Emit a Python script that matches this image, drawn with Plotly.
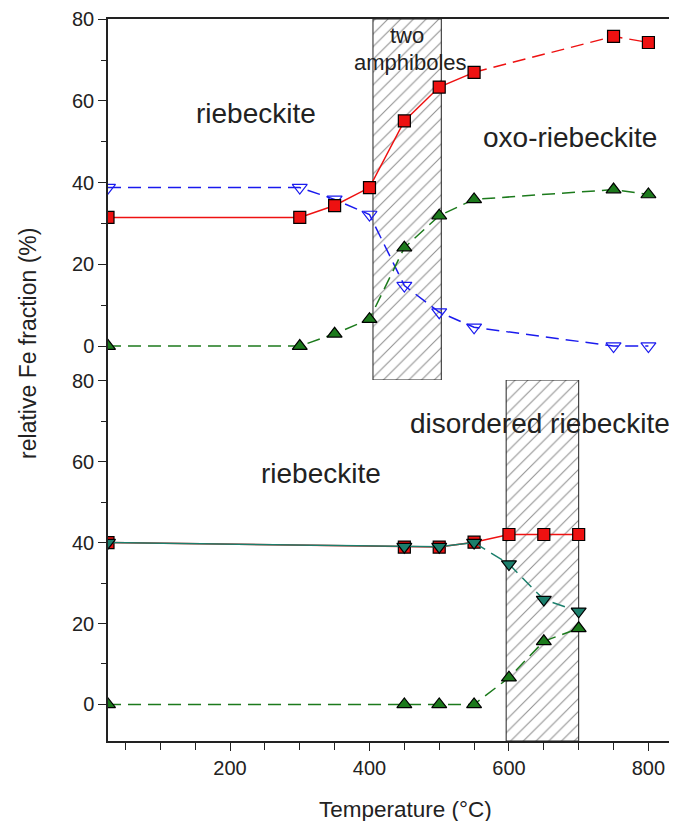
import plotly.graph_objects as go

# ---------------- data ----------------
# top panel (oxidation)
t_top = [25, 300, 350, 400, 450, 500, 550, 750, 800]
top_red = [31.5, 31.5, 34.4, 38.8, 55.1, 63.4, 67.0, 75.8, 74.3]
top_blue = [38.8, 38.8, 35.9, 32.2, 14.8, 8.3, 4.6, 0.0, 0.0]
top_green = [0.0, 0.0, 3.0, 6.6, 24.1, 31.9, 35.9, 38.3, 37.1]

# bottom panel (disordering)
t_bot = [25, 450, 500, 550, 600, 650, 700]
bot_red = [40.0, 38.9, 38.9, 40.1, 42.0, 42.0, 42.0]
bot_teal = [40.0, 39.0, 39.0, 40.0, 34.7, 25.9, 23.0]
bot_green = [0.0, 0.0, 0.0, 0.0, 6.6, 15.6, 18.8]

# hatched transition regions (x0, x1)
top_region = (405, 503)
bot_region = (596, 700)

x_ticks = [200, 400, 600, 800]
y_ticks = [0, 20, 40, 60, 80]

RED = "#ee1111"
BLUE = "#1a1aee"
GREEN = "#1c7a1c"
TEAL = "#1b7f6c"
DASH = "13px,7px"

fig = go.Figure()

Y_TOP = (-8.3, 80.05)
Y_BOT = (-9.05, 80.2)


def hatch(region, yr, xa, ya):
    x0, x1 = region
    fig.add_trace(go.Bar(
        x=[(x0 + x1) / 2], y=[yr[1] - yr[0]], base=[yr[0]], width=[x1 - x0],
        marker=dict(color="white", line=dict(color="#222222", width=1),
                    pattern=dict(shape="/", fgcolor="#222222", bgcolor="white",
                                 size=9, solidity=0.12, fillmode="overlay")),
        xaxis=xa, yaxis=ya, showlegend=False, hoverinfo="skip"))


def series(x, y, color, dash, symbol, xa, ya, mcolor=None, mline="black", size=12):
    fig.add_trace(go.Scatter(
        x=x, y=y, mode="lines+markers", xaxis=xa, yaxis=ya, showlegend=False,
        line=dict(color=color, width=1.5, dash=dash),
        marker=dict(symbol=symbol, size=size, color=mcolor if mcolor else color,
                    line=dict(color=mline, width=1.2))))


def line_only(x, y, color, dash, xa, ya):
    fig.add_trace(go.Scatter(
        x=x, y=y, mode="lines", xaxis=xa, yaxis=ya, showlegend=False,
        line=dict(color=color, width=1.5, dash=dash), hoverinfo="skip"))


hatch(top_region, Y_TOP, "x2", "y2")
hatch(bot_region, Y_BOT, "x", "y")

# top panel
k = t_top.index(550)
line_only(t_top[k:], top_red[k:], RED, DASH, "x2", "y2")
series(t_top, top_blue, BLUE, DASH, "triangle-down-open", "x2", "y2", mline=BLUE, size=13)
series(t_top, top_green, GREEN, DASH, "triangle-up", "x2", "y2", size=13)
fig.add_trace(go.Scatter(
    x=t_top[:k + 1], y=top_red[:k + 1], mode="lines", xaxis="x2", yaxis="y2",
    showlegend=False, line=dict(color=RED, width=1.5)))
fig.add_trace(go.Scatter(
    x=t_top, y=top_red, mode="markers", xaxis="x2", yaxis="y2", showlegend=False,
    marker=dict(symbol="square", size=12, color=RED, line=dict(color="black", width=1.2))))

# bottom panel
j = t_bot.index(550)
series(t_bot, bot_green, GREEN, DASH, "triangle-up", "x", "y", size=13)
series(t_bot, bot_red, RED, "solid", "square", "x", "y", size=12)
line_only(t_bot[:j + 1], bot_teal[:j + 1], TEAL, "solid", "x", "y")
line_only(t_bot[j:], bot_teal[j:], TEAL, DASH, "x", "y")
fig.add_trace(go.Scatter(
    x=t_bot, y=bot_teal, mode="markers", xaxis="x", yaxis="y", showlegend=False,
    marker=dict(symbol="triangle-down", size=13, color=TEAL, line=dict(color="black", width=1.2))))

AX = "#222222"
FONT = "Liberation Sans, Arial, sans-serif"

common_y = dict(showline=True, linecolor=AX, linewidth=1.5, ticks="outside", ticklen=8,
                tickwidth=1.3, tickcolor=AX, tickvals=y_ticks, showgrid=False, zeroline=False,
                tickfont=dict(size=20, color="#222", family=FONT), ticklabeloverflow="allow",
                minor=dict(dtick=10, ticks="outside", ticklen=5, tickcolor=AX, tickwidth=1.3))

fig.update_layout(
    width=669, height=813,
    margin=dict(l=100, r=0, t=8, b=80),
    paper_bgcolor="white", plot_bgcolor="white",
    font=dict(family=FONT, color="#222"),
    barmode="overlay",
    xaxis=dict(range=[25, 841], domain=[0, 1], anchor="y", showline=True, linecolor=AX,
               linewidth=1.5, ticks="outside", ticklen=8, tickwidth=1.3, tickcolor=AX,
               tickvals=x_ticks, showgrid=False, zeroline=False,
               tickfont=dict(size=20, color="#222", family=FONT),
               minor=dict(dtick=50, tick0=0, ticks="outside", ticklen=7, tickcolor=AX, tickwidth=1.3)),
    yaxis=dict(range=list(Y_BOT), domain=[0, 0.5], anchor="x", **common_y),
    xaxis2=dict(range=[25, 841], domain=[0, 1], anchor="y2", side="top", showline=True,
                linecolor=AX, linewidth=1.5, ticks="", showticklabels=False,
                showgrid=False, zeroline=False),
    yaxis2=dict(range=list(Y_TOP), domain=[0.5, 1], anchor="x2", **common_y),
)

ann_font = dict(size=28, color="#222", family=FONT)
small_font = dict(size=22, color="#222", family=FONT)
annotations = [
    dict(x=237, y=57, xref="x2", yref="y2", text="riebeckite", font=ann_font),
    dict(x=687, y=51, xref="x2", yref="y2", text="oxo-riebeckite", font=ann_font),
    dict(x=454, y=76, xref="x2", yref="y2", text="two", font=small_font),
    dict(x=459, y=69.3, xref="x2", yref="y2", text="amphiboles", font=small_font),
    dict(x=330, y=57.2, xref="x", yref="y", text="riebeckite", font=ann_font),
    dict(x=644, y=69.4, xref="x", yref="y", text="disordered riebeckite", font=ann_font),
    dict(x=(28 - 108) / 569, y=0.55, xref="paper", yref="paper", text="relative Fe fraction (%)",
         textangle=-90, font=dict(size=23, color="#222", family=FONT)),
    dict(x=(405 - 108) / 569, y=(741 - 810) / 725, xref="paper", yref="paper",
         text="Temperature (°C)", font=dict(size=22.5, color="#222", family=FONT)),
]
for a in annotations:
    a.update(showarrow=False, xanchor="center", yanchor="middle")
fig.update_layout(annotations=annotations)

fig.write_html("out.html")
